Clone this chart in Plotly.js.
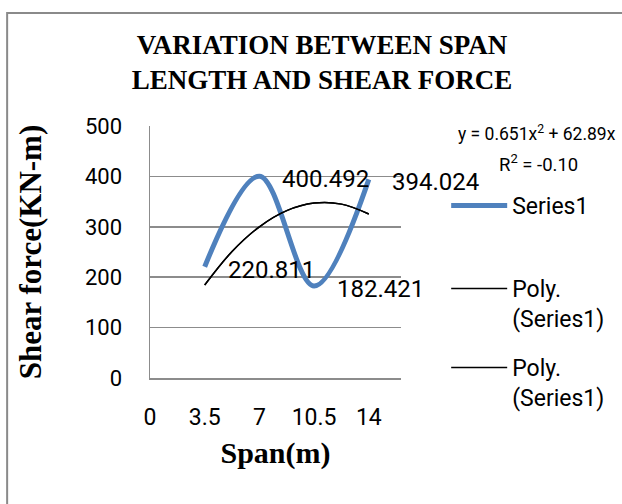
<!DOCTYPE html>
<html>
<head>
<meta charset="utf-8">
<script src="https://cdn.plot.ly/plotly-3.0.1.min.js"></script>
<style>
  html, body { margin: 0; padding: 0; background: #fff; overflow: hidden; }
  #chart { width: 622px; height: 504px; }
</style>
</head>
<body>
<div id="chart"></div>
<script>
// ---- data ----
const spanValues = [3.5, 7, 10.5, 14];
const shearForce = [220.811, 400.492, 182.421, 394.024];
const trendSpan = [3.5, 5.25, 7, 8.75, 10.5, 12.25, 14];
const trendShear = [184.5, 251, 300, 332, 347, 345, 325.5];
const xTickVals = [0, 3.5, 7, 10.5, 14];
const xTickText = ['0', '3.5', '7', '10.5', '14'];
const yTickVals = [0, 100, 200, 300, 400, 500];
const titleLines = ['VARIATION BETWEEN SPAN', 'LENGTH AND SHEAR FORCE'];
const seriesName = 'Series1';
const trendName = 'Poly.<br>(Series1)';
const trendEquation = 'y = 0.651x<sup>2</sup> + 62.89x';
const trendR2 = 'R<sup>2</sup> = -0.10';

const sans = 'Roboto, "Open Sans", sans-serif';
const serif = '"Liberation Serif", "Times New Roman", serif';
const gridColor = '#8c8c8c';

const traces = [
  {
    x: spanValues, y: shearForce, name: seriesName, type: 'scatter', mode: 'lines',
    line: { color: '#4F81BD', width: 5, shape: 'spline', smoothing: 1 },
    legend: 'legend', hoverinfo: 'skip'
  },
  {
    x: trendSpan, y: trendShear, name: trendName, type: 'scatter', mode: 'lines',
    line: { color: '#000000', width: 1.5, shape: 'spline' },
    legend: 'legend2', hoverinfo: 'skip'
  },
  {
    x: trendSpan, y: trendShear, name: trendName, type: 'scatter', mode: 'lines',
    line: { color: '#000000', width: 1.5, shape: 'spline' },
    legend: 'legend3', hoverinfo: 'skip'
  }
];

const annotations = shearForce.map((v, i) => ({
  x: spanValues[i], y: v, xref: 'x', yref: 'y',
  text: String(v), showarrow: false, xanchor: 'left', yanchor: 'middle',
  xshift: 21, yshift: -3,
  font: { family: sans, size: 24, color: '#000' }
}));

annotations.push({
  xref: 'paper', yref: 'paper', x: (458 - 150) / 253, y: 0.972, xanchor: 'left', yanchor: 'middle',
  text: trendEquation, showarrow: false,
  font: { family: sans, size: 17.5, color: '#000' }
});
annotations.push({
  xref: 'paper', yref: 'paper', x: 1.549, y: 0.853, xanchor: 'center', yanchor: 'middle',
  text: trendR2, showarrow: false,
  font: { family: sans, size: 18.5, color: '#000' }
});

const legendBase = {
  xanchor: 'left', yanchor: 'top', x: 1.18,
  font: { family: sans, size: 23, color: '#000' },
  bgcolor: 'rgba(0,0,0,0)', itemwidth: 56, valign: 'top',
  itemclick: false, itemdoubleclick: false
};

const layout = {
  width: 622, height: 504,
  margin: { l: 150, r: 219, t: 126, b: 126 },
  paper_bgcolor: '#fff', plot_bgcolor: '#fff',
  showlegend: true,
  title: {
    text: '<b>' + titleLines.join('<br>') + '</b>',
    x: 0.5177, xanchor: 'center', xref: 'container',
    y: 1 - 54 / 504, yanchor: 'middle', yref: 'container',
    font: { family: serif, size: 27, color: '#000' }
  },
  xaxis: {
    range: [0, 16.06], tickvals: xTickVals, ticktext: xTickText,
    showgrid: false, zeroline: false, showline: true, linecolor: gridColor, linewidth: 1.5,
    ticks: '', ticklabelstandoff: 18,
    tickfont: { family: sans, size: 23, color: '#000' },
    title: { text: '<b>Span(m)</b>', standoff: 12, font: { family: serif, size: 30, color: '#000' } },
    fixedrange: true
  },
  yaxis: {
    range: [0, 500], tickvals: yTickVals,
    showgrid: true, gridcolor: gridColor, gridwidth: 1.5,
    zeroline: false, showline: true, linecolor: gridColor, linewidth: 1.5,
    ticks: '', ticklabelstandoff: 22,
    tickfont: { family: sans, size: 22, color: '#000' },
    title: { text: '<b>Shear force(KN-m)</b>', standoff: 34, font: { family: serif, size: 31, color: '#000' } },
    fixedrange: true
  },
  legend: Object.assign({}, legendBase, { y: (378 - 184) / 252 }),
  legend2: Object.assign({}, legendBase, { y: (378 - 267) / 252 }),
  legend3: Object.assign({}, legendBase, { y: (378 - 346) / 252 }),
  annotations: annotations,
  shapes: [{
    type: 'rect', xref: 'paper', yref: 'paper',
    x0: (6 - 150) / 253, x1: 2.5, y0: -1.5, y1: (378 - 13) / 252,
    line: { color: '#8a8a8a', width: 2 }, fillcolor: 'rgba(0,0,0,0)', layer: 'below'
  }]
};

Plotly.newPlot('chart', traces, layout, { displayModeBar: false, staticPlot: true });
</script>
</body>
</html>
